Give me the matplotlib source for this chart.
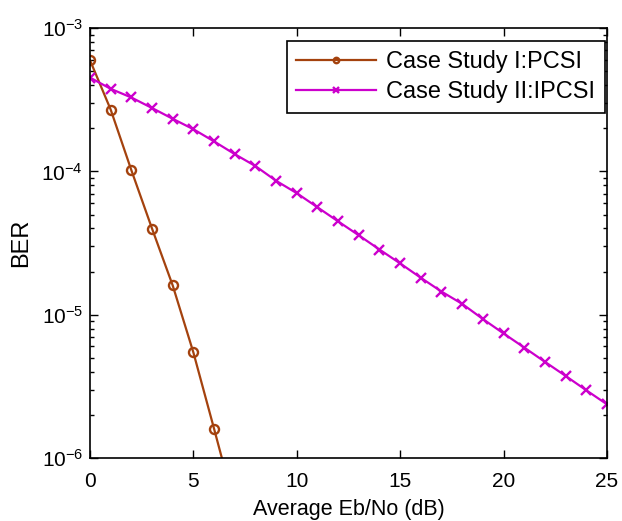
import matplotlib
matplotlib.use("Agg")
import matplotlib.pyplot as plt
import numpy as np

plt.rcParams["font.family"] = ["Liberation Sans", "DejaVu Sans"]
plt.rcParams["mathtext.fontset"] = "custom"
plt.rcParams["mathtext.rm"] = "Liberation Sans"

# BER vs Eb/No for the two channel state information cases
snr_pcsi = [0, 1, 2, 3, 4, 5, 6, 7]
ber_pcsi = [5.97e-4, 2.70e-4, 1.02e-4, 3.99e-5, 1.60e-5, 5.45e-6, 1.60e-6, 4.6e-7]

snr_ipcsi = list(range(0, 26))
ber_ipcsi = [4.52e-4, 3.77e-4, 3.28e-4, 2.77e-4, 2.33e-4, 1.97e-4, 1.62e-4,
             1.32e-4, 1.09e-4, 8.6e-5, 7.05e-5, 5.62e-5, 4.48e-5, 3.58e-5,
             2.85e-5, 2.28e-5, 1.81e-5, 1.45e-5, 1.19e-5, 9.33e-6, 7.40e-6,
             5.90e-6, 4.69e-6, 3.74e-6, 2.97e-6, 2.37e-6]

fig = plt.figure(figsize=(6.22, 5.21), dpi=100)
ax = fig.add_axes([0.1447, 0.121, 0.831, 0.825])

ax.semilogy(snr_pcsi, ber_pcsi, color="#A4420E", marker="o", markersize=6.5,
            markerfacecolor="none", markeredgewidth=1.7, linewidth=1.6,
            label="Case Study I:PCSI")
ax.semilogy(snr_ipcsi, ber_ipcsi, color="#CC00CC", marker="x", markersize=6.5,
            markeredgewidth=1.7, linewidth=1.6, label="Case Study II:IPCSI")

ax.set_xlim(0, 25)
ax.set_ylim(1e-6, 1e-3)
ax.set_xticks([0, 5, 10, 15, 20, 25])
ax.set_xlabel("Average Eb/No (dB)", fontsize=15.5, labelpad=6)
ax.set_ylabel("BER", fontsize=17, labelpad=7)
ax.tick_params(which="both", direction="in", top=True, right=True,
               labelsize=15, width=1)
ax.tick_params(axis="x", pad=10)
ax.tick_params(axis="y", pad=5)
ax.tick_params(which="major", length=6)
ax.tick_params(which="minor", length=3)
for s in ax.spines.values():
    s.set_linewidth(1.2)

leg = ax.legend(loc="upper right", bbox_to_anchor=(0.996, 0.97), fontsize=16.9,
                fancybox=False, framealpha=1, edgecolor="black",
                borderaxespad=0, handlelength=3.4, handletextpad=0.45,
                markerscale=0.6, borderpad=0.4, labelspacing=0.3)
leg.get_frame().set_linewidth(1.2)

fig.savefig("out.png", dpi=100)
